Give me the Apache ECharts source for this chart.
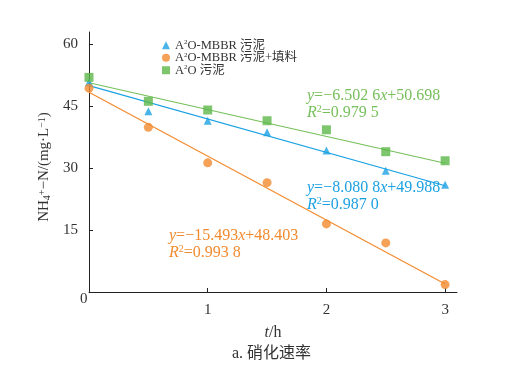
<!DOCTYPE html>
<html><head><meta charset="utf-8">
<script src="https://cdn.jsdelivr.net/npm/echarts@6/dist/echarts.min.js"></script>
<style>html,body{margin:0;padding:0;background:#fff}#c{width:525px;height:372px}</style>
</head><body><div id="c"></div>
<script>
const times = [0, 0.5, 1, 1.5, 2, 2.5, 3];
const mbbrSludge = [50.8, 43.8, 41.5, 38.7, 34.3, 29.4, 26.0];
const mbbrSludgeFill = [49.4, 39.9, 31.3, 26.5, 16.5, 11.9, 1.8];
const a2oSludge = [52.0, 46.2, 44.1, 41.5, 39.3, 34.0, 31.8];
const trendMbbr = [[0, 49.99], [3, 25.75]];
const trendFill = [[0, 48.40], [3, 1.92]];
const trendA2o = [[0, 50.70], [3, 31.19]];
const yTicks = [15, 30, 45, 60];
const xTicks = [1, 2, 3];
const names = ['A2O-MBBR 污泥', 'A2O-MBBR 污泥+填料', 'A2O 污泥'];

const BLUE = '#1ba1e2', ORANGE = '#f28a2e', GREEN = '#5cb84a', GREEN_LINE = '#76bf5a';
const SERIF = '"Liberation Serif", "Noto Sans CJK SC", serif';
const pair = (xs, ys) => xs.map((x, i) => [x, ys[i]]);

function eq(text, color) {
  return {
    text: text,
    font: '16px "Liberation Serif"', fill: color, lineHeight: 17,
    rich: {
      n: { font: '16px "Liberation Serif"', fill: color, lineHeight: 17 },
      i: { font: 'italic 16px "Liberation Serif"', fill: color, lineHeight: 17 },
      s: { font: '10px "Liberation Serif"', fill: color, verticalAlign: 'top', lineHeight: 17 }
    }
  };
}

const chart = echarts.init(document.getElementById('c'));
chart.setOption({
  animation: false,
  backgroundColor: '#fff',
  grid: { left: 89, right: 68, top: 32, bottom: 80 },
  legend: {
    data: names.map(n => ({ name: n })),
    orient: 'vertical', left: 157, top: 34, itemGap: 0,
    itemWidth: 8, itemHeight: 8,
    formatter: n => '{a|A}{s|2}{a|' + n.slice(2) + '}',
    textStyle: {
      fontFamily: SERIF, fontSize: 12, color: '#333', lineHeight: 12.5,
      rich: {
        a: { fontFamily: SERIF, fontSize: 12.5, color: '#333', lineHeight: 12.5 },
        s: { fontFamily: SERIF, fontSize: 7, color: '#333', verticalAlign: 'top', lineHeight: 12.5 }
      }
    }
  },
  xAxis: {
    type: 'value', min: 0, max: 3.1,
    name: '{i|t}/h', nameLocation: 'middle', nameGap: 33,
    nameTextStyle: { fontFamily: SERIF, fontSize: 16, color: '#333',
      rich: { i: { fontFamily: SERIF, fontStyle: 'italic', fontSize: 16, color: '#333' } } },
    axisLine: { lineStyle: { color: '#222', width: 1 } },
    axisTick: { inside: true, length: 4, customValues: xTicks, lineStyle: { color: '#222' } },
    axisLabel: { customValues: xTicks, fontFamily: SERIF, fontSize: 15, color: '#333', margin: 11 },
    splitLine: { show: false }
  },
  yAxis: {
    type: 'value', min: 0, max: 63,
    name: 'NH{sub|4}{sup|+}−N/(mg·L{sup|−1})', nameLocation: 'middle', nameGap: 37, nameRotate: 90,
    nameTextStyle: { fontFamily: SERIF, fontSize: 15, color: '#333', padding: [0, 10, 0, 0],
      rich: {
        sub: { fontFamily: SERIF, fontSize: 10, color: '#333', verticalAlign: 'bottom' },
        sup: { fontFamily: SERIF, fontSize: 10, color: '#333', verticalAlign: 'top' }
      } },
    axisLine: { show: true, lineStyle: { color: '#222', width: 1 } },
    axisTick: { show: true, inside: true, length: 4, customValues: yTicks, lineStyle: { color: '#222' } },
    axisLabel: { customValues: yTicks, fontFamily: SERIF, fontSize: 15, color: '#333', margin: 11 },
    splitLine: { show: false }
  },
  graphic: [
    { type: 'text', left: 80, top: 292, style: { text: '0', font: '15px "Liberation Serif"', fill: '#333' } },
    { type: 'text', left: 232, top: 346, style: { text: 'a. 硝化速率', font: '16px "Liberation Serif", "Noto Sans CJK SC"', fill: '#333' } },
    { type: 'text', left: 307, top: 87, style: eq('{i|y}{n|=−6.502 6}{i|x}{n|+50.698}\n{i|R}{s|2}{n|=0.979 5}', GREEN_LINE) },
    { type: 'text', left: 307, top: 179, style: eq('{i|y}{n|=−8.080 8}{i|x}{n|+49.988}\n{i|R}{s|2}{n|=0.987 0}', BLUE) },
    { type: 'text', left: 169, top: 227, style: eq('{i|y}{n|=−15.493}{i|x}{n|+48.403}\n{i|R}{s|2}{n|=0.993 8}', ORANGE) }
  ],
  series: [
    { type: 'line', data: trendA2o, symbol: 'none', lineStyle: { color: GREEN_LINE, width: 1.2 }, silent: true, z: 1 },
    { type: 'line', data: trendMbbr, symbol: 'none', lineStyle: { color: BLUE, width: 1.2 }, silent: true, z: 1 },
    { type: 'line', data: trendFill, symbol: 'none', lineStyle: { color: ORANGE, width: 1.2 }, silent: true, z: 1 },
    { name: names[0], type: 'scatter', data: pair(times, mbbrSludge), symbol: 'triangle', symbolSize: 8, itemStyle: { color: BLUE }, z: 3 },
    { name: names[1], type: 'scatter', data: pair(times, mbbrSludgeFill), symbol: 'circle', symbolSize: 9, itemStyle: { color: ORANGE }, z: 3 },
    { name: names[2], type: 'scatter', data: pair(times, a2oSludge), symbol: 'rect', symbolSize: 9, itemStyle: { color: GREEN }, z: 3 }
  ]
});
</script></body></html>
